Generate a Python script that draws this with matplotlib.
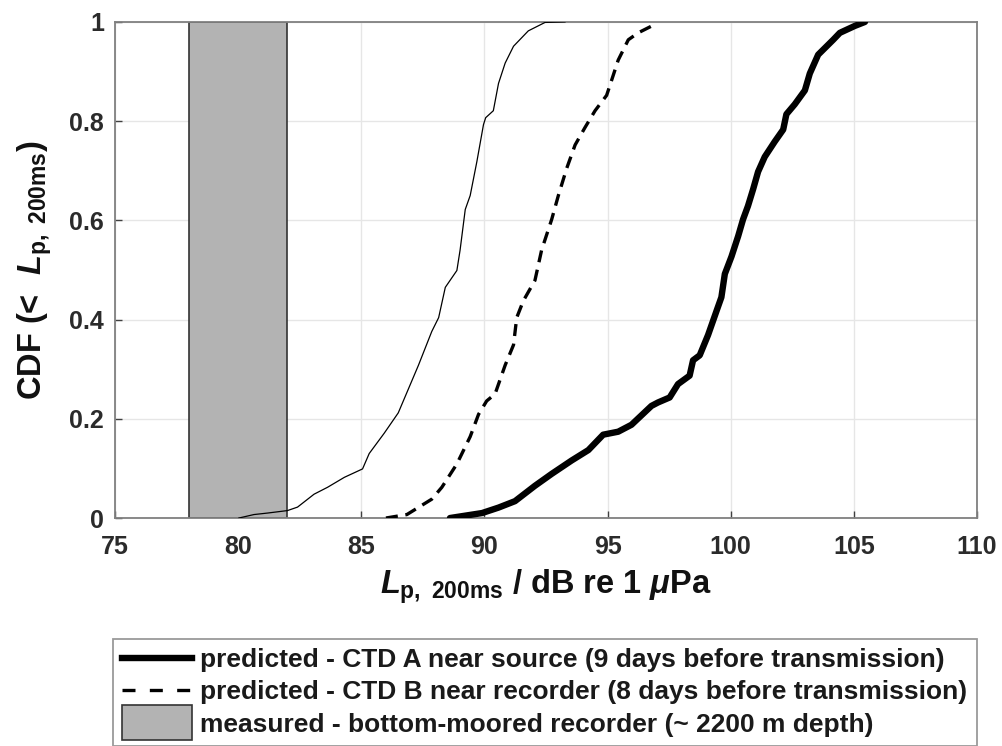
import matplotlib
matplotlib.use('Agg')
import matplotlib.pyplot as plt
from matplotlib.patches import Patch, Rectangle
from matplotlib.lines import Line2D
from matplotlib.legend_handler import HandlerPatch

plt.rcParams['font.family'] = 'Liberation Sans'
plt.rcParams['font.weight'] = 'bold'
plt.rcParams['mathtext.fontset'] = 'custom'
plt.rcParams['mathtext.rm'] = 'Liberation Sans:bold'
plt.rcParams['mathtext.it'] = 'Liberation Sans:italic:bold'
plt.rcParams['mathtext.bf'] = 'Liberation Sans:bold'

# CTD A near source (thick line)
lp_a = [88.6, 89.9, 90.57, 91.24, 92.05, 92.73, 93.54, 94.22, 94.82, 95.43, 95.97,
        96.78, 97.05, 97.52, 97.86, 98.33, 98.47, 98.74, 99.08, 99.42, 99.62, 99.76,
        100.03, 100.3, 100.5, 100.7, 100.91, 101.11, 101.38, 101.79, 102.13, 102.26,
        102.6, 103.01, 103.21, 103.55, 104.16, 104.43, 105.04, 105.45]
cdf_a = [0.0, 0.01, 0.021, 0.034, 0.065, 0.089, 0.116, 0.137, 0.168, 0.174, 0.188,
         0.226, 0.233, 0.243, 0.27, 0.287, 0.318, 0.328, 0.369, 0.417, 0.445, 0.492,
         0.527, 0.568, 0.602, 0.629, 0.663, 0.698, 0.728, 0.759, 0.783, 0.814,
         0.834, 0.862, 0.896, 0.934, 0.964, 0.978, 0.992, 1.0]

# CTD B near recorder (dashed line)
lp_b = [86.0, 86.85, 87.86, 88.27, 88.88, 89.42, 89.76, 90.09, 90.43, 90.84, 91.18,
        91.31, 91.58, 92.05, 92.32, 92.73, 93.0, 93.34, 93.68, 94.08, 94.49, 94.96,
        95.16, 95.43, 95.84, 96.24, 96.92]
cdf_b = [0.0, 0.007, 0.038, 0.062, 0.109, 0.164, 0.209, 0.236, 0.25, 0.308, 0.349,
         0.404, 0.438, 0.479, 0.54, 0.602, 0.65, 0.705, 0.752, 0.787, 0.821, 0.852,
         0.882, 0.923, 0.964, 0.978, 0.995]

# third prediction (thin line, not in legend)
lp_c = [80.03, 80.64, 81.19, 82.0, 82.41, 83.08, 83.63, 84.31, 85.05, 85.32, 85.93,
        86.5, 87.32, 87.86, 88.14, 88.41, 88.88, 89.01, 89.22, 89.42, 89.69, 89.96,
        90.05, 90.36, 90.57, 90.84, 91.18, 91.78, 92.46, 93.27]
cdf_c = [0.0, 0.007, 0.01, 0.015, 0.022, 0.048, 0.062, 0.082, 0.099, 0.13, 0.171,
         0.212, 0.308, 0.376, 0.404, 0.465, 0.499, 0.54, 0.622, 0.65, 0.718, 0.793,
         0.807, 0.821, 0.876, 0.917, 0.951, 0.982, 0.999, 1.0]

# measured range at the bottom-moored recorder
meas_lo, meas_hi = 78, 82

labels = ['predicted - CTD A near source (9 days before transmission)',
          'predicted - CTD B near recorder (8 days before transmission)',
          'measured - bottom-moored recorder (~ 2200 m depth)']


def tall_box(legend, orig_handle, xdescent, ydescent, width, height, fontsize):
    # legend box a bit taller than the text row
    h = 1.3 * fontsize
    return Rectangle((-xdescent, -ydescent + height / 2 - h / 2), width, h)


fig = plt.figure(figsize=(10.03, 7.46), dpi=100)
ax = fig.add_axes([0.1147, 0.3056, 0.8594, 0.665])

ax.axvspan(meas_lo, meas_hi, facecolor='#b3b3b3', edgecolor='#333333', lw=1.2, zorder=1)
ax.plot(lp_c, cdf_c, color='black', lw=0.9, zorder=3)
ax.plot(lp_b, cdf_b, color='black', lw=2.4, dashes=(3.6, 2.3), zorder=3)
ax.plot(lp_a, cdf_a, color='black', lw=4.6, solid_capstyle='round', zorder=3)

ax.set_xlim(75, 110)
ax.set_ylim(0, 1)
ax.set_xticks(range(75, 111, 5))
ax.set_yticks([0, 0.2, 0.4, 0.6, 0.8, 1])
ax.set_yticklabels(['0', '0.2', '0.4', '0.6', '0.8', '1'])
ax.grid(True, color='#e6e6e6', lw=1.0, zorder=0)
ax.set_axisbelow(True)
ax.tick_params(direction='in', length=5, width=1, color='#404040',
               labelsize=18, labelcolor='#2b2b2b')
ax.tick_params(axis='x', pad=12)
ax.tick_params(axis='y', pad=8)
for s in ax.spines.values():
    s.set_color('#808080')
    s.set_linewidth(1.3)

ax.set_xlabel(r'$L_{\mathrm{p,\ 200ms}}$ / dB re 1 $\mu$Pa', fontsize=23.5,
              fontweight='bold', color='#111111', labelpad=6)
ax.set_ylabel(r'CDF (<$\ \ L_{\mathrm{p,\ 200ms}}$)', fontsize=23.5,
              fontweight='bold', color='#111111', labelpad=11)

handles = [Line2D([], [], color='black', lw=4.6),
           Line2D([], [], color='black', lw=2.4, linestyle=(0, (3.9, 4.3))),
           Patch(facecolor='#b3b3b3', edgecolor='#333333', lw=1.2)]
x0, x1 = 113 / 1003, 977 / 1003
top = 1 - 639 / 746
leg = fig.legend(handles, labels, loc='upper left',
                 bbox_to_anchor=(x0, top - 0.3, x1 - x0, 0.3), mode='expand',
                 fontsize=19, frameon=True, fancybox=False, handlelength=2.65,
                 handleheight=0.7, handletextpad=0.3, labelspacing=0.31,
                 borderpad=0.35, borderaxespad=0,
                 handler_map={Patch: HandlerPatch(patch_func=tall_box)})
leg.get_frame().set_edgecolor('#808080')
leg.get_frame().set_linewidth(1.3)
for t in leg.get_texts():
    t.set_color('#1a1a1a')

fig.savefig('out.png', dpi=100)
